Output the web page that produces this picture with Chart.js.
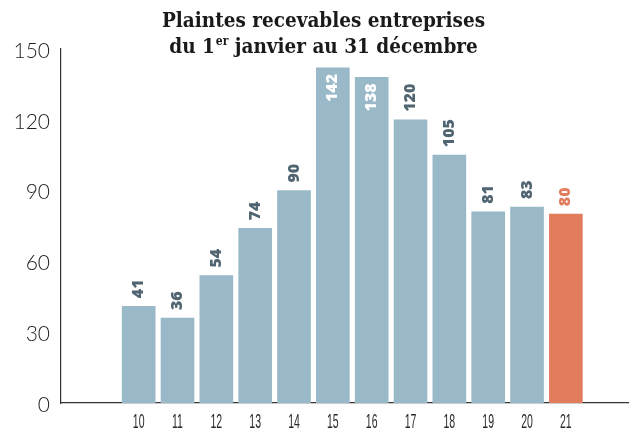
<!DOCTYPE html>
<html>
<head>
<meta charset="utf-8">
<script src="https://cdn.jsdelivr.net/npm/chart.js@4/dist/chart.umd.min.js"></script>
<style>
  html, body { margin: 0; padding: 0; background: #fff; }
  #wrap { width: 629px; height: 428px; position: relative; }
</style>
</head>
<body>
<div id="wrap"><canvas id="chart"></canvas></div>
<script>
// data
const years = ['10', '11', '12', '13', '14', '15', '16', '17', '18', '19', '20', '21'];
const complaints = [41, 36, 54, 74, 90, 142, 138, 120, 105, 81, 83, 80];
const yTicks = [0, 30, 60, 90, 120, 150];

const titleLine1 = 'Plaintes recevables entreprises';
const titleLine2 = ['du 1', 'er', ' janvier au 31 décembre'];

const BAR_COLOR = '#99b8c8';
const LAST_COLOR = '#e17d5c';
const LABEL_COLOR = '#506571';

const barColors = complaints.map((v, i) => i === complaints.length - 1 ? LAST_COLOR : BAR_COLOR);

// title with the little "er" superscript
const titlePlugin = {
    id: 'titleDraw',
    afterDraw(chart) {
        const ctx = chart.ctx;
        const cx = 323.5;
        ctx.save();
        ctx.fillStyle = '#1a1a1a';
        ctx.textBaseline = 'alphabetic';
        const big = 'bold 20.5px "DejaVu Serif Condensed", "DejaVu Serif", serif';
        const small = 'bold 12px "DejaVu Serif Condensed", "DejaVu Serif", serif';

        ctx.font = big;
        ctx.textAlign = 'center';
        ctx.fillText(titleLine1, cx, 27);

        ctx.textAlign = 'left';
        const w0 = ctx.measureText(titleLine2[0]).width;
        const w2 = ctx.measureText(titleLine2[2]).width;
        ctx.font = small;
        const w1 = ctx.measureText(titleLine2[1]).width + 1;
        let x = cx - (w0 + w1 + w2) / 2;
        ctx.font = big;
        ctx.fillText(titleLine2[0], x, 53);
        x += w0 + 1;
        ctx.font = small;
        ctx.fillText(titleLine2[1], x, 45);
        x += w1 - 1;
        ctx.font = big;
        ctx.fillText(titleLine2[2], x, 53);
        ctx.restore();
    }
};

// narrow year labels under the axis (squeezed, like the original face)
const yearLabels = {
    id: 'yearLabels',
    afterDraw(chart) {
        const ctx = chart.ctx;
        const xs = chart.scales.x;
        ctx.save();
        ctx.fillStyle = '#2b2b2b';
        ctx.font = '21px "Liberation Sans", Arial, sans-serif';
        ctx.textAlign = 'center';
        ctx.textBaseline = 'alphabetic';
        years.forEach(y => {
            const px = xs.getPixelForValue(Number(y));
            ctx.save();
            ctx.translate(px, 428);
            ctx.scale(0.5, 1);
            ctx.fillText(y, 0, 0);
            ctx.restore();
        });
        ctx.restore();
    }
};

// vertical value labels above (or inside) each bar
const valueLabels = {
    id: 'valueLabels',
    afterDatasetsDraw(chart) {
        const ctx = chart.ctx;
        const meta = chart.getDatasetMeta(0);
        const area = chart.chartArea;
        ctx.save();
        ctx.font = '800 16px "Open Sans", "DejaVu Sans", sans-serif';
        ctx.textBaseline = 'middle';
        meta.data.forEach((bar, i) => {
            const txt = String(complaints[i]);
            const tw = ctx.measureText(txt).width;
            const gap = 8;
            const inside = bar.y - gap - tw < area.top;
            ctx.save();
            ctx.translate(bar.x, bar.y);
            ctx.rotate(-Math.PI / 2);
            if (inside) {
                ctx.fillStyle = '#ffffff';
                ctx.textAlign = 'right';
                ctx.fillText(txt, -6, 0);
            } else {
                ctx.fillStyle = i === complaints.length - 1 ? LAST_COLOR : LABEL_COLOR;
                ctx.textAlign = 'left';
                ctx.fillText(txt, gap, 0);
            }
            ctx.restore();
        });
        ctx.restore();
    }
};

const ctx = document.getElementById('chart').getContext('2d');
new Chart(ctx, {
    type: 'bar',
    data: {
        datasets: [{
            data: years.map((y, i) => ({ x: Number(y), y: complaints[i] })),
            backgroundColor: barColors,
            borderWidth: 0,
            barThickness: 33
        }]
    },
    options: {
        responsive: true,
        maintainAspectRatio: false,
        animation: false,
        layout: { padding: { top: 49, right: 1, left: 0, bottom: 0 } },
        plugins: {
            legend: { display: false },
            tooltip: { enabled: false },
            title: { display: false }
        },
        scales: {
            x: {
                type: 'linear',
                min: 8,
                max: 22.6,
                offset: false,
                grid: { display: false, drawTicks: false },
                border: { color: '#333', width: 1.2 },
                afterFit: (s) => { s.height = 25; },
                afterBuildTicks: (s) => {
                    s.ticks = years.map(y => ({ value: Number(y) }));
                },
                ticks: { display: false }
            },
            y: {
                min: 0,
                max: 150,
                grid: { display: false, drawTicks: false },
                border: { color: '#333', width: 1.2 },
                afterFit: (s) => { s.width = 61; },
                afterBuildTicks: (s) => {
                    s.ticks = yTicks.map(v => ({ value: v }));
                },
                ticks: {
                    padding: 11,
                    labelOffset: 2,
                    color: '#1e1e1e',
                    font: { family: 'Lato, "DejaVu Sans", sans-serif', size: 21, weight: '300' }
                }
            }
        }
    },
    plugins: [titlePlugin, valueLabels, yearLabels]
});
</script>
</body>
</html>
